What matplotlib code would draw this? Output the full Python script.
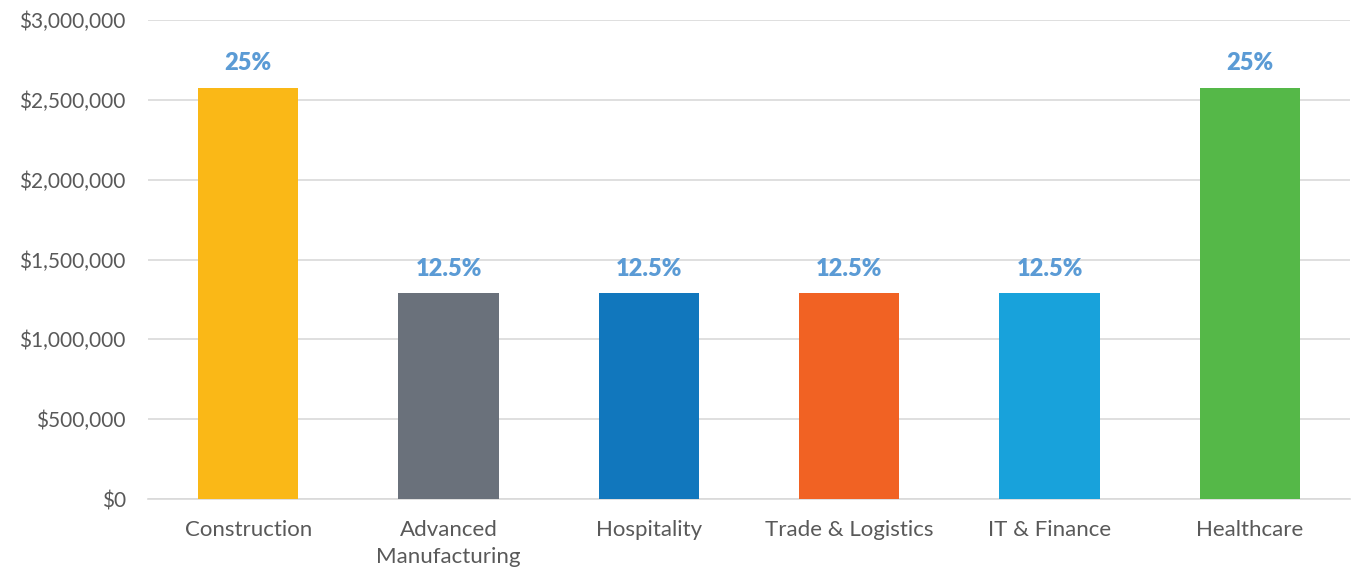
import matplotlib
matplotlib.use("Agg")
import matplotlib.pyplot as plt
from matplotlib.ticker import FuncFormatter

plt.rcParams['font.family'] = ['Lato', 'DejaVu Sans']

categories = ['Construction', 'Advanced\nManufacturing', 'Hospitality',
              'Trade & Logistics', 'IT & Finance', 'Healthcare']
values = [2575000, 1287500, 1287500, 1287500, 1287500, 2575000]
pct_labels = ['25%', '12.5%', '12.5%', '12.5%', '12.5%', '25%']
colors = ['#FAB817', '#6A717B', '#1177BD', '#F16223', '#18A2DB', '#55B848']

fig = plt.figure(figsize=(13.54, 5.76), dpi=100)
ax = fig.add_axes([148 / 1354, 1 - 499 / 576, 1202 / 1354, 479 / 576])

x = range(len(categories))
bars = ax.bar(x, values, width=0.5, color=colors, zorder=3)

for b, lab in zip(bars, pct_labels):
    ax.text(b.get_x() + b.get_width() / 2, b.get_height() + 85000, lab,
            ha='center', va='bottom', fontsize=17, fontweight='heavy',
            color='#5B9BD5')

ax.set_xlim(-0.5, len(categories) - 0.5)
ax.set_ylim(0, 3000000)
ax.set_yticks(range(0, 3000001, 500000))
ax.yaxis.set_major_formatter(FuncFormatter(lambda v, p: f'${v:,.0f}'))
ax.set_xticks(list(x))
ax.set_xticklabels(categories, fontsize=16, color='#595959', linespacing=1.45)
ax.tick_params(axis='y', labelsize=15, labelcolor='#595959', length=0, pad=16)
ax.tick_params(axis='x', length=0, pad=15)

ax.grid(axis='y', color='#D9D9D9', linewidth=1.2, zorder=0)
for s in ['top', 'right', 'left']:
    ax.spines[s].set_visible(False)
ax.spines['bottom'].set_color('#D9D9D9')
ax.spines['bottom'].set_linewidth(1.2)

fig.savefig('out.png', dpi=100)
